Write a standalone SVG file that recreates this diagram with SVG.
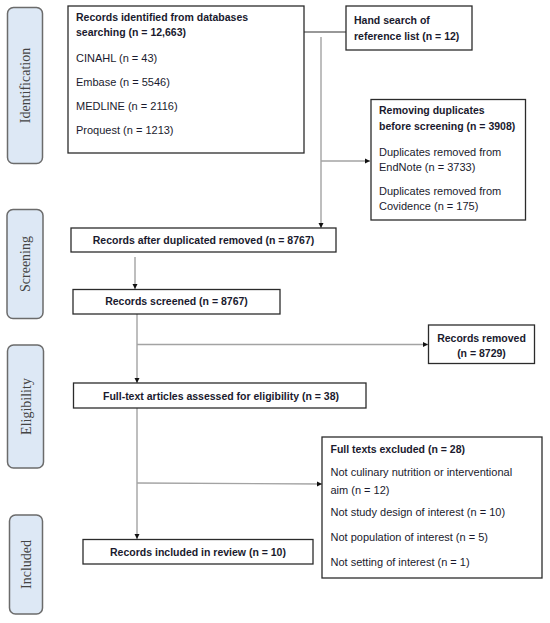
<svg xmlns="http://www.w3.org/2000/svg" width="550" height="623" viewBox="0 0 550 623">
<style>
.pill{fill:#dde8f5;stroke:#6b6b6b;stroke-width:1.5}
.pt{font-family:"Liberation Serif",serif;font-size:14px;fill:#444;text-anchor:middle}
.box{fill:#fff;stroke:#2b2b2b;stroke-width:1.3}
.b{font-family:"Liberation Sans",Arial,sans-serif;font-size:10.5px;font-weight:bold;fill:#1a1a2e}
.r{font-family:"Liberation Sans",Arial,sans-serif;font-size:11px;fill:#1a1a2e}
.c{text-anchor:middle}
.ln{fill:none;stroke:#a3a3a3;stroke-width:1.4}
.dk{fill:none;stroke:#333;stroke-width:1.2}
</style>
<defs>
<marker id="ah" markerUnits="userSpaceOnUse" markerWidth="6" markerHeight="6" refX="5" refY="3" orient="auto">
<path d="M0,0.5 L5,3 L0,5.5 Z" fill="#111"/>
</marker>
</defs>

<g id="phase-identification">
<rect class="pill" x="7.5" y="7.5" width="35" height="156" rx="6"/>
<text class="pt" transform="translate(30,85.5) rotate(-90)">Identification</text>
</g>
<g id="phase-screening">
<rect class="pill" x="7" y="209.5" width="36" height="109" rx="6"/>
<text class="pt" transform="translate(30,264) rotate(-90)">Screening</text>
</g>
<g id="phase-eligibility">
<rect class="pill" x="7.5" y="345" width="36" height="123" rx="6"/>
<text class="pt" transform="translate(30.5,406.5) rotate(-90)">Eligibility</text>
</g>
<g id="phase-included">
<rect class="pill" x="9.5" y="515" width="33" height="99" rx="6"/>
<text class="pt" transform="translate(31,564.5) rotate(-90)">Included</text>
</g>

<g id="connectors">
<line class="dk" x1="304" y1="32" x2="346" y2="32"/>
<line class="ln" x1="321" y1="37" x2="321" y2="228" marker-end="url(#ah)"/>
<line class="ln" x1="321" y1="161" x2="370" y2="161" marker-end="url(#ah)"/>
<line class="ln" x1="135" y1="257" x2="135" y2="289" marker-end="url(#ah)"/>
<line class="ln" x1="137" y1="314" x2="137" y2="383" marker-end="url(#ah)"/>
<line class="ln" x1="137" y1="344.5" x2="428" y2="344.5" marker-end="url(#ah)"/>
<line class="ln" x1="137" y1="408" x2="137" y2="539" marker-end="url(#ah)"/>
<line class="ln" x1="137" y1="483" x2="322" y2="484" marker-end="url(#ah)"/>
</g>

<g id="records-identified">
<rect class="box" x="68" y="6" width="236" height="147"/>
<text class="b" x="76" y="21">Records identified from databases</text>
<text class="b" x="76" y="36">searching (n = 12,663)</text>
<text class="r" x="76" y="61.5">CINAHL (n = 43)</text>
<text class="r" x="76" y="85.5">Embase (n = 5546)</text>
<text class="r" x="76" y="110">MEDLINE (n = 2116)</text>
<text class="r" x="76" y="133.5">Proquest (n = 1213)</text>
</g>

<g id="hand-search">
<rect class="box" x="346" y="6" width="126" height="44"/>
<text class="b" x="354" y="24">Hand search of</text>
<text class="b" x="354" y="40">reference list (n = 12)</text>
</g>

<g id="removing-duplicates">
<rect class="box" x="371" y="99.5" width="154.5" height="120.5"/>
<text class="b" x="379" y="114">Removing duplicates</text>
<text class="b" x="379" y="130">before screening (n = 3908)</text>
<text class="r" x="379" y="155.5">Duplicates removed from</text>
<text class="r" x="379" y="170.5">EndNote (n = 3733)</text>
<text class="r" x="379" y="194.5">Duplicates removed from</text>
<text class="r" x="379" y="210">Covidence (n = 175)</text>
</g>

<g id="records-after-duplicates">
<rect class="box" x="71" y="228" width="265" height="24"/>
<text class="b c" x="203.5" y="243.5">Records after duplicated removed (n = 8767)</text>
</g>

<g id="records-screened">
<rect class="box" x="73" y="289.5" width="207" height="24.5"/>
<text class="b c" x="176.5" y="304.5">Records screened (n = 8767)</text>
</g>

<g id="records-removed">
<rect class="box" x="428.5" y="325" width="106" height="38.5"/>
<text class="b c" x="481.5" y="342">Records removed</text>
<text class="b c" x="481.5" y="357">(n = 8729)</text>
</g>

<g id="full-text-assessed">
<rect class="box" x="73.5" y="383" width="292.5" height="25"/>
<text class="b c" x="221" y="399.5">Full-text articles assessed for eligibility (n = 38)</text>
</g>

<g id="full-texts-excluded">
<rect class="box" x="322" y="437" width="220" height="141"/>
<text class="b" x="330.5" y="452.5">Full texts excluded (n = 28)</text>
<text class="r" x="330.5" y="476">Not culinary nutrition or interventional</text>
<text class="r" x="330.5" y="493.5">aim (n = 12)</text>
<text class="r" x="330.5" y="515.5">Not study design of interest (n = 10)</text>
<text class="r" x="330.5" y="540.5">Not population of interest (n = 5)</text>
<text class="r" x="330.5" y="565.5">Not setting of interest (n = 1)</text>
</g>

<g id="records-included">
<rect class="box" x="83" y="539.5" width="230" height="24.5"/>
<text class="b c" x="198" y="555.5">Records included in review (n = 10)</text>
</g>
</svg>
